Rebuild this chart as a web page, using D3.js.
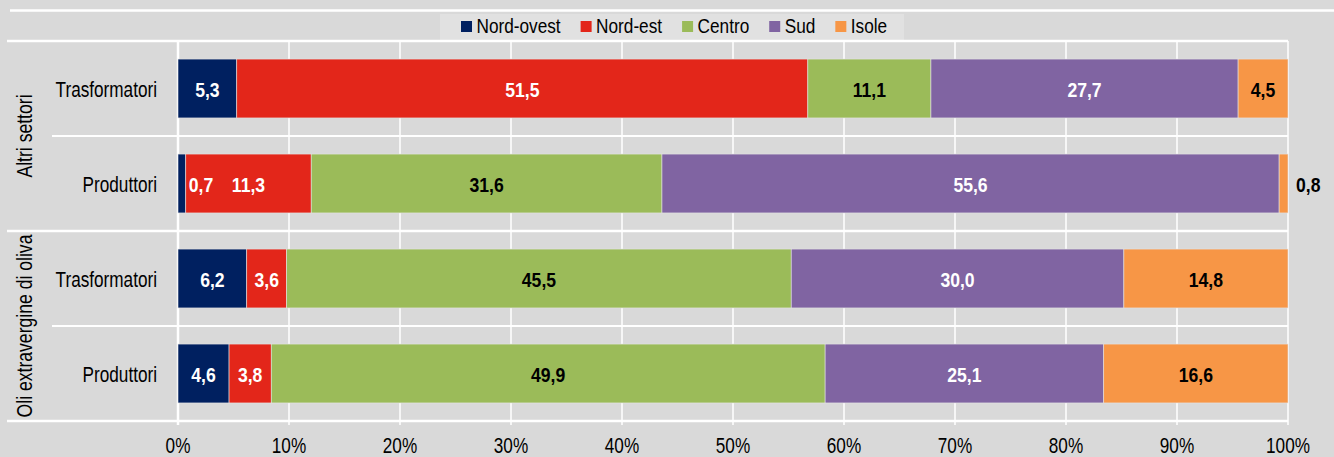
<!DOCTYPE html>
<html><head><meta charset="utf-8">
<script src="https://cdn.jsdelivr.net/npm/d3@7"></script>
<style>
html,body{margin:0;padding:0;background:#d9d9d9;}
svg{display:block;}
text{font-family:"Liberation Sans",Arial,sans-serif;}
</style></head>
<body><svg id="c" width="1334" height="457"></svg>
<script>
const groups = ["Altri settori", "Oli extravergine di oliva"];
const rowGroups = ["Altri settori", "Altri settori", "Oli extravergine di oliva", "Oli extravergine di oliva"];
const categories = ["Trasformatori", "Produttori", "Trasformatori", "Produttori"];
const regions = ["Nord-ovest", "Nord-est", "Centro", "Sud", "Isole"];
const nordOvest = [5.3, 0.7, 6.2, 4.6];
const nordEst = [51.5, 11.3, 3.6, 3.8];
const centro = [11.1, 31.6, 45.5, 49.9];
const sud = [27.7, 55.6, 30.0, 25.1];
const isole = [4.5, 0.8, 14.8, 16.6];
const tickValues = [0, 0.1, 0.2, 0.3, 0.4, 0.5, 0.6, 0.7, 0.8, 0.9, 1.0];
const colors = ["#002060", "#e3261a", "#9bbb59", "#8064a2", "#f79646"];
const labelColors = ["#ffffff", "#ffffff", "#000000", "#ffffff", "#000000"];

const seriesValues = [nordOvest, nordEst, centro, sud, isole];
const rows = categories.map((c, i) => {
  const o = {key: i, group: rowGroups[i], cat: c};
  regions.forEach((r, j) => o[r] = seriesValues[j][i]);
  return o;
});

// squeeze text horizontally to mimic a narrow font; returns final width
function narrow(sel, ratio) {
  let last = 0;
  sel.each(function() {
    const w = this.getComputedTextLength();
    last = w * ratio;
    d3.select(this).attr("textLength", last).attr("lengthAdjust", "spacingAndGlyphs");
  });
  return last;
}

const svg = d3.select("#c");
const W = 1334, H = 457;
const x0 = 178, x1 = 1288, yTop = 41, yBot = 421;

const x = d3.scaleLinear().domain([0, 1]).range([x0, x1]);
const y = d3.scaleBand().domain(rows.map(d => d.key)).range([yTop, yBot])
  .paddingInner(0.38).paddingOuter(0.19);
const step = y.step();

// top white line
svg.append("line").attr("x1", 10).attr("x2", W).attr("y1", 10.5).attr("y2", 10.5)
  .attr("stroke", "#fff").attr("stroke-width", 2.5);

// legend
const lg = svg.append("g");
lg.append("rect").attr("x", 440).attr("y", 14).attr("width", 464).attr("height", 26).attr("fill", "#e1e1e1");
let lx = 461;
regions.forEach((r, i) => {
  lg.append("rect").attr("x", lx).attr("y", 21).attr("width", 11).attr("height", 11).attr("fill", colors[i]);
  const t = lg.append("text").attr("x", lx + 15.5).attr("y", 33.3).attr("font-size", 20).attr("fill", "#000").text(r);
  const w = narrow(t, 0.86);
  lx += 15.5 + w + 20;
});

// vertical grid
svg.append("g").selectAll("line").data(tickValues).join("line")
  .attr("x1", d => x(d)).attr("x2", d => x(d)).attr("y1", yTop).attr("y2", yBot + 4)
  .attr("stroke", "#fff").attr("stroke-width", d => d === 0 ? 2.5 : 1.5);

// horizontal lines: band boundaries
const boundaries = d3.range(rows.length + 1).map(i => ({y: yTop + i * step, i}));
svg.append("g").selectAll("line").data(boundaries).join("line")
  .attr("x1", d => d.i % 2 === 0 ? 7 : 52).attr("x2", x1)
  .attr("y1", d => d.y).attr("y2", d => d.y)
  .attr("stroke", "#fff").attr("stroke-width", d => d.i % 2 === 0 ? 2.5 : 2);

// stack
const stack = d3.stack().keys(regions).offset(d3.stackOffsetExpand);
const series = stack(rows);

const bars = svg.append("g");
series.forEach((s, si) => {
  bars.append("g").selectAll("rect").data(s).join("rect")
    .attr("x", d => x(d[0])).attr("width", d => x(d[1]) - x(d[0]))
    .attr("y", d => y(d.data.key)).attr("height", y.bandwidth())
    .attr("fill", colors[si]).attr("stroke", "#e4e4e4").attr("stroke-width", 0.6);
});

// value labels
const fmt = v => d3.format(".1f")(v).replace(".", ",");
const lab = svg.append("g");
series.forEach((s, si) => {
  s.forEach(d => {
    const v = d.data[regions[si]];
    const a = x(d[0]), b = x(d[1]);
    const cy = y(d.data.key) + y.bandwidth() / 2 + 8;
    const t = lab.append("text").attr("font-size", 20).attr("font-weight", "bold").attr("y", cy).text(fmt(v));
    const tw = narrow(t, 0.88);
    if (b - a >= tw + 4) {
      t.attr("x", (a + b) / 2).attr("text-anchor", "middle").attr("fill", labelColors[si]);
    } else if (si === regions.length - 1) {
      t.attr("x", b + 8).attr("text-anchor", "start").attr("fill", "#000");
    } else {
      t.attr("x", b + 3).attr("text-anchor", "start").attr("fill", "#fff");
    }
  });
});

// category labels
narrow(svg.append("g").selectAll("text").data(rows).join("text")
  .attr("x", 157).attr("y", d => y(d.key) + y.bandwidth() / 2 + 8)
  .attr("text-anchor", "end").attr("font-size", 22).attr("fill", "#000").text(d => d.cat), 0.78);

// group labels
groups.forEach(g => {
  const idx = rows.filter(r => r.group === g).map(r => r.key);
  const cy = (y(idx[0]) - y.step() * y.paddingInner() / 2 + y(idx[idx.length - 1]) + y.bandwidth() + y.step() * y.paddingInner() / 2) / 2;
  narrow(svg.append("text").attr("transform", `translate(32,${cy}) rotate(-90)`)
    .attr("text-anchor", "middle").attr("font-size", 22).attr("fill", "#000").text(g), 0.8);
});

// x axis tick labels
narrow(svg.append("g").selectAll("text").data(tickValues).join("text")
  .attr("x", d => x(d)).attr("y", 453).attr("text-anchor", "middle")
  .attr("font-size", 22).attr("fill", "#000").text(d => d3.format(".0%")(d)), 0.78);
</script></body></html>
